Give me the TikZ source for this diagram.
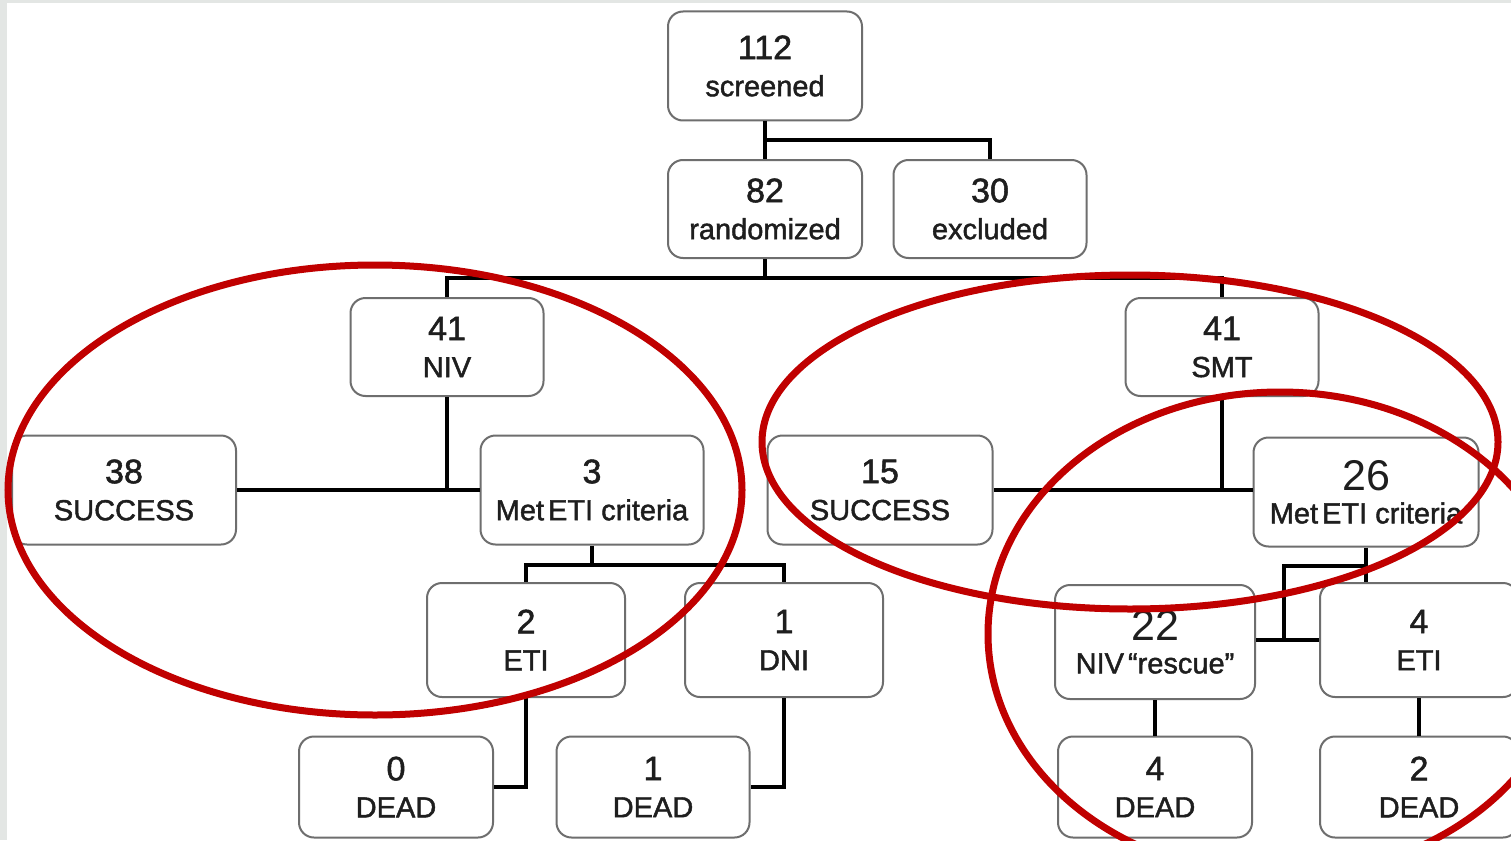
\documentclass[tikz,border=0pt]{standalone}
\usepackage{fontspec}
\setmainfont{Liberation Sans}
\newfontfamily\heavysans{Liberation Sans}[FakeBold=1.5]
\definecolor{boxgray}{HTML}{6E6E6E}
\definecolor{txt}{HTML}{1E1E1E}
\definecolor{ringred}{HTML}{C00000}
\definecolor{edgegray}{HTML}{E3E6E4}
\newcommand{\cntnum}[1]{{\fontsize{34}{37}\selectfont #1}}
\newcommand{\cntbig}[1]{{\normalfont\fontsize{43}{43}\selectfont #1}}
\begin{document}
\begin{tikzpicture}[x=1pt,y=-1pt,
  box/.style={draw=boxgray, line width=2pt, rounded corners=15pt, fill=white,
    align=center, inner sep=0pt, text=txt, font=\heavysans\fontsize{29}{37}\selectfont},
  conn/.style={line width=4pt, draw=black},
  ring/.style={draw=ringred, line width=7pt}]
\fill[white] (0,0) rectangle (1511,840);
\fill[edgegray] (0,0) rectangle (7,840);
\fill[edgegray] (0,0) rectangle (1511,3);
\useasboundingbox (0,0) rectangle (1511,840);

% nodes
\node[box, minimum width=194pt, minimum height=109pt] (scr) at (765,66) {\cntnum{112}\\screened};
\node[box, minimum width=194pt, minimum height=98pt] (rnd) at (765,209) {\cntnum{82}\\randomized};
\node[box, minimum width=193pt, minimum height=98pt] (exc) at (990,209) {\cntnum{30}\\excluded};
\node[box, minimum width=193pt, minimum height=98pt] (niv) at (447,347) {\cntnum{41}\\NIV};
\node[box, minimum width=193pt, minimum height=98pt] (smt) at (1222,347) {\cntnum{41}\\SMT};
\node[box, minimum width=224pt, minimum height=109pt] (s38) at (124,490) {\cntnum{38}\\SUCCESS};
\node[box, minimum width=223pt, minimum height=109pt] (m3) at (592,490) {\cntnum{3}\\Met\hspace{4pt}ETI criteria};
\node[box, minimum width=225pt, minimum height=109pt] (s15) at (880,490) {\cntnum{15}\\SUCCESS};
\node[box, minimum width=225pt, minimum height=109pt] (m26) at (1366,492) {\cntbig{26}\\[-4pt]Met\hspace{4pt}ETI criteria};
\node[box, minimum width=198pt, minimum height=114pt] (eti2) at (526,640) {\cntnum{2}\\ETI};
\node[box, minimum width=198pt, minimum height=114pt] (dni) at (784,640) {\cntnum{1}\\DNI};
\node[box, minimum width=194pt, minimum height=101pt] (d0) at (396,787) {\cntnum{0}\\DEAD};
\node[box, minimum width=193pt, minimum height=101pt] (d1) at (653,787) {\cntnum{1}\\DEAD};
\node[box, minimum width=200pt, minimum height=114pt] (n22) at (1155,642) {\cntbig{22}\\[-4pt]NIV\hspace{4pt}“rescue”};
\node[box, minimum width=198pt, minimum height=114pt] (eti4) at (1419,640) {\cntnum{4}\\ETI};
\node[box, minimum width=194pt, minimum height=101pt] (d4) at (1155,787) {\cntnum{4}\\DEAD};
\node[box, minimum width=198pt, minimum height=101pt] (d2) at (1419,787) {\cntnum{2}\\DEAD};

% junctions
\coordinate (j1) at (765,140);
\coordinate (j2) at (765,278);
\coordinate (j3) at (592,565);
\coordinate (j4) at (1366,566);
\coordinate (j5) at (1284,640);

% connectors
\draw[conn] (scr.south) -- (rnd.north);
\draw[conn] (j1) -| (exc.north);
\draw[conn] (rnd.south) -- (j2);
\draw[conn] (niv.north) |- (j2) -| (smt.north);
\draw[conn] (niv.south) -- (niv.south |- s38.east);
\draw[conn] (s38.east) -- (m3.west);
\draw[conn] (smt.south) -- (smt.south |- s15.east);
\draw[conn] (s15.east) -- (m26.west |- s15.east);
\draw[conn] (m3.south) -- (j3);
\draw[conn] (eti2.north) |- (j3) -| (dni.north);
\draw[conn] (eti2.south) |- (d0.east);
\draw[conn] (dni.south) |- (d1.east);
\draw[conn] (m26.south) -- (m26.south |- eti4.north);
\draw[conn] (j4) -| (j5);
\draw[conn] (n22.east |- eti4.west) -- (eti4.west);
\draw[conn] (n22.south) -- (d4.north);
\draw[conn] (eti4.south) -- (d2.north);

% red rings
\begin{scope}
\clip (0,0) rectangle (1511,840);
\draw[ring] (375,490) ellipse [x radius=367pt, y radius=225pt];
\draw[ring] (1130,442) ellipse [x radius=368pt, y radius=167pt];
\draw[ring] (1280,634) ellipse [x radius=292pt, y radius=242pt];
\end{scope}
\end{tikzpicture}
\end{document}
